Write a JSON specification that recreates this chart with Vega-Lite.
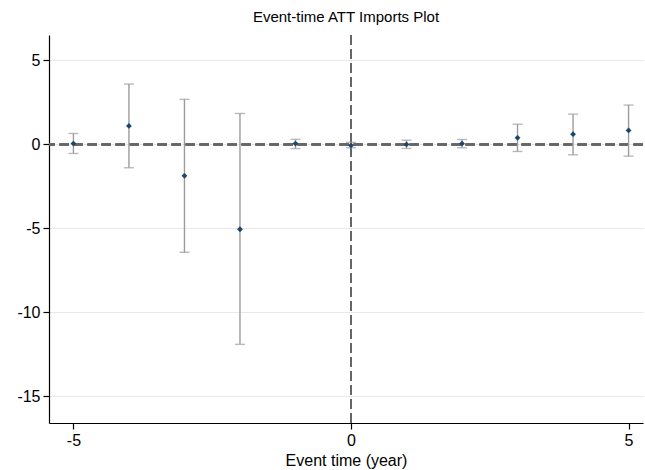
{
  "$schema": "https://vega.github.io/schema/vega-lite/v6.json",
  "autosize": {"type": "none"},
  "width": 594,
  "height": 388,
  "padding": {"left": 49, "top": 35, "right": 2, "bottom": 47},
  "background": "white",
  "config": {
    "view": {"stroke": null},
    "font": "Liberation Sans",
    "axis": {"labelFont": "Liberation Sans", "titleFont": "Liberation Sans", "labelColor": "black", "titleColor": "black", "domainColor": "black", "tickColor": "black", "labelFontSize": 16, "titleFontSize": 16, "titleFontWeight": "normal", "tickSize": 6, "domainWidth": 1.2, "tickWidth": 1.2}
  },
  "title": {"text": "Event-time ATT Imports Plot", "font": "Liberation Sans", "fontSize": 15, "fontWeight": "normal", "color": "black", "anchor": "middle", "offset": 9},
  "data": {"values": [
    {"t": -5, "est": 0.05, "lo": -0.54, "hi": 0.65},
    {"t": -4, "est": 1.1, "lo": -1.39, "hi": 3.59},
    {"t": -3, "est": -1.87, "lo": -6.42, "hi": 2.68},
    {"t": -2, "est": -5.05, "lo": -11.9, "hi": 1.84},
    {"t": -1, "est": 0.05, "lo": -0.25, "hi": 0.3},
    {"t": 0, "est": -0.06, "lo": -0.2, "hi": 0.12},
    {"t": 1, "est": 0.0, "lo": -0.24, "hi": 0.25},
    {"t": 2, "est": 0.05, "lo": -0.2, "hi": 0.29},
    {"t": 3, "est": 0.39, "lo": -0.42, "hi": 1.2},
    {"t": 4, "est": 0.61, "lo": -0.62, "hi": 1.8},
    {"t": 5, "est": 0.83, "lo": -0.7, "hi": 2.34}
  ]},
  "layer": [
    {
      "mark": {"type": "rule", "color": "#666666", "strokeWidth": 1.5, "strokeDash": [9.5, 4.5]},
      "encoding": {
        "x": {"datum": 0, "type": "quantitative", "scale": {"domain": [-5.44, 5.26], "nice": false, "zero": false}, "axis": {"values": [-5, 0, 5], "grid": false, "title": "Event time (year)", "labelPadding": 3, "titlePadding": 4, "labelExpr": "'' + datum.value"}}
      }
    },
    {
      "mark": {"type": "rule", "color": "#666666", "strokeWidth": 1.5, "strokeDash": [9.5, 4.5]},
      "encoding": {
        "y": {"datum": 0, "type": "quantitative", "scale": {"domain": [-16.58, 6.51], "nice": false, "zero": false}, "axis": {"values": [-15, -10, -5, 0, 5], "grid": true, "gridColor": "#e8e8e8", "gridWidth": 1.2, "title": null, "labelPadding": 3, "labelExpr": "'' + datum.value"}}
      }
    },
    {
      "mark": {"type": "rule", "color": "#9c9c9c", "strokeWidth": 1.4},
      "encoding": {
        "x": {"field": "t", "type": "quantitative"},
        "y": {"field": "lo", "type": "quantitative"},
        "y2": {"field": "hi"}
      }
    },
    {
      "mark": {"type": "tick", "orient": "horizontal", "color": "#9c9c9c", "size": 10, "thickness": 1.4},
      "encoding": {"x": {"field": "t", "type": "quantitative"}, "y": {"field": "lo", "type": "quantitative"}}
    },
    {
      "mark": {"type": "tick", "orient": "horizontal", "color": "#9c9c9c", "size": 10, "thickness": 1.4},
      "encoding": {"x": {"field": "t", "type": "quantitative"}, "y": {"field": "hi", "type": "quantitative"}}
    },
    {
      "mark": {"type": "point", "shape": "diamond", "filled": true, "color": "#1a476f", "size": 34, "opacity": 1},
      "encoding": {"x": {"field": "t", "type": "quantitative"}, "y": {"field": "est", "type": "quantitative"}}
    }
  ]
}
